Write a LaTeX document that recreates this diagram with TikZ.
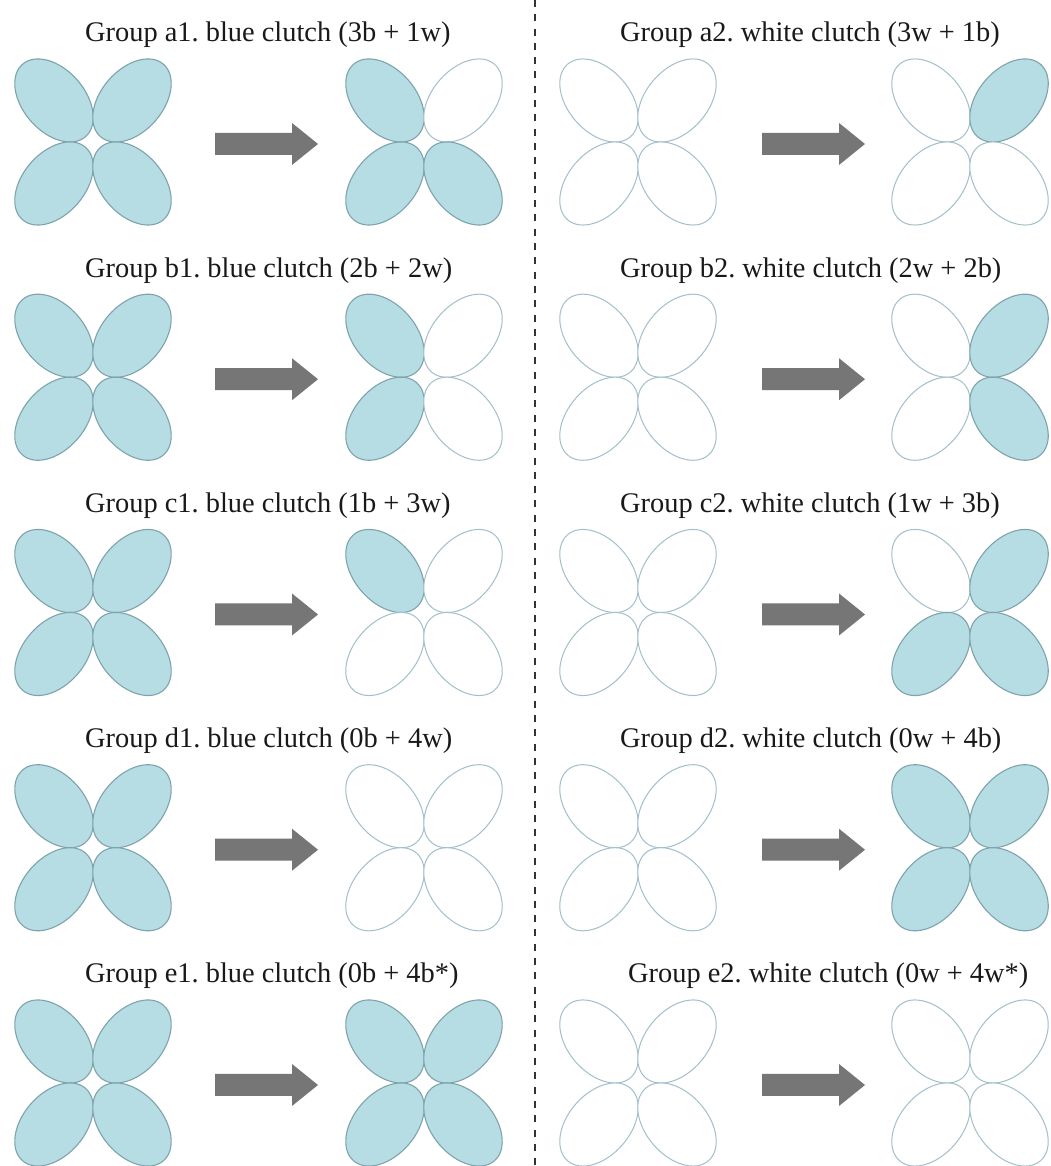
\documentclass[tikz,border=0pt]{standalone}
\usepackage{fontspec}
\setmainfont{Liberation Serif}
\frenchspacing
\definecolor{petalblue}{HTML}{B6DDE3}
\definecolor{blueedge}{HTML}{7FA3AC}
\definecolor{whiteedge}{HTML}{A3BFC9}
\definecolor{arrowgray}{HTML}{767676}
\definecolor{dashgray}{HTML}{333333}
\newcommand\flowerfour[6]{%
  \draw[#3, rotate around={-49:({#1-39},{#2+41.5})}] ({#1-39},{#2+41.5}) ellipse [x radius=48pt, y radius=31pt];
  \draw[#4, rotate around={49:({#1+39},{#2+41.5})}] ({#1+39},{#2+41.5}) ellipse [x radius=48pt, y radius=31pt];
  \draw[#5, rotate around={49:({#1-39},{#2-41.5})}] ({#1-39},{#2-41.5}) ellipse [x radius=48pt, y radius=31pt];
  \draw[#6, rotate around={-49:({#1+39},{#2-41.5})}] ({#1+39},{#2-41.5}) ellipse [x radius=48pt, y radius=31pt];
}
\newcommand\bigarrow[2]{%
  \fill[arrowgray] (#1,{#2+11}) -- ({#1+77},{#2+11}) -- ({#1+77},{#2+21}) -- ({#1+103},#2)
    -- ({#1+77},{#2-21}) -- ({#1+77},{#2-11}) -- (#1,{#2-11}) -- cycle;
}
\begin{document}
\begin{tikzpicture}[x=1pt,y=1pt,
  bp/.style={fill=petalblue, draw=blueedge, line width=1.1pt},
  wp/.style={fill=white, draw=whiteedge, line width=1pt},
  title/.style={inner sep=0pt, anchor=base west, font=\fontsize{28.4}{34}\selectfont, text=black!90}]
\useasboundingbox (0,0) rectangle (1050,1166);
\fill[white] (0,0) rectangle (1050,1166);
% divider
\coordinate (dtop) at (535,1166);
\coordinate (dbot) at (535,0);
\draw[dashgray, line width=2pt, dash pattern=on 7pt off 7.3pt] (dtop) -- (dbot);
% titles
\node[title] (ta1) at (85,1124) {Group a1. blue clutch (3b + 1w)};
\node[title] (ta2) at (620,1124) {Group a2. white clutch (3w + 1b)};
\node[title] (tb1) at (85,888.75) {Group b1. blue clutch (2b + 2w)};
\node[title] (tb2) at (620,888.75) {Group b2. white clutch (2w + 2b)};
\node[title] (tc1) at (85,653.5) {Group c1. blue clutch (1b + 3w)};
\node[title] (tc2) at (620,653.5) {Group c2. white clutch (1w + 3b)};
\node[title] (td1) at (85,418.25) {Group d1. blue clutch (0b + 4w)};
\node[title] (td2) at (620,418.25) {Group d2. white clutch (0w + 4b)};
\node[title] (te1) at (85,183) {Group e1. blue clutch (0b + 4b*)};
\node[title] (te2) at (628,183) {Group e2. white clutch (0w + 4w*)};
% row a
\flowerfour{93}{1024}{bp}{bp}{bp}{bp}
\bigarrow{215}{1022}
\flowerfour{424}{1024}{bp}{wp}{bp}{bp}
\flowerfour{638}{1024}{wp}{wp}{wp}{wp}
\bigarrow{762}{1022}
\flowerfour{970}{1024}{wp}{bp}{wp}{wp}
% row b
\flowerfour{93}{788.75}{bp}{bp}{bp}{bp}
\bigarrow{215}{786.75}
\flowerfour{424}{788.75}{bp}{wp}{bp}{wp}
\flowerfour{638}{788.75}{wp}{wp}{wp}{wp}
\bigarrow{762}{786.75}
\flowerfour{970}{788.75}{wp}{bp}{wp}{bp}
% row c
\flowerfour{93}{553.5}{bp}{bp}{bp}{bp}
\bigarrow{215}{551.5}
\flowerfour{424}{553.5}{bp}{wp}{wp}{wp}
\flowerfour{638}{553.5}{wp}{wp}{wp}{wp}
\bigarrow{762}{551.5}
\flowerfour{970}{553.5}{wp}{bp}{bp}{bp}
% row d
\flowerfour{93}{318.25}{bp}{bp}{bp}{bp}
\bigarrow{215}{316.25}
\flowerfour{424}{318.25}{wp}{wp}{wp}{wp}
\flowerfour{638}{318.25}{wp}{wp}{wp}{wp}
\bigarrow{762}{316.25}
\flowerfour{970}{318.25}{bp}{bp}{bp}{bp}
% row e
\flowerfour{93}{83}{bp}{bp}{bp}{bp}
\bigarrow{215}{81}
\flowerfour{424}{83}{bp}{bp}{bp}{bp}
\flowerfour{638}{83}{wp}{wp}{wp}{wp}
\bigarrow{762}{81}
\flowerfour{970}{83}{wp}{wp}{wp}{wp}
\end{tikzpicture}
\end{document}
